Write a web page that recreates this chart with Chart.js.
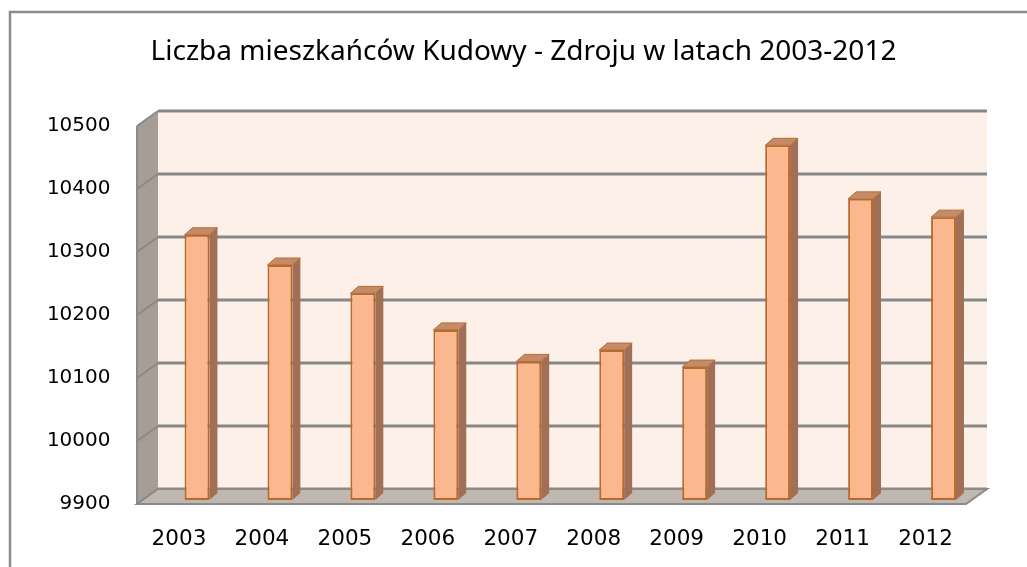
<!DOCTYPE html>
<html>
<head>
<meta charset="utf-8">
<script src="https://cdn.jsdelivr.net/npm/chart.js@4.4.0/dist/chart.umd.min.js"></script>
<style>
  html, body { margin: 0; padding: 0; background: #fff; }
  #wrap { width: 1027px; height: 567px; }
</style>
</head>
<body>
<div id="wrap"><canvas id="popChart" width="1027" height="567"></canvas></div>
<script>
const years = ['2003', '2004', '2005', '2006', '2007', '2008', '2009', '2010', '2011', '2012'];
const population = [10321, 10273, 10228, 10170, 10120, 10138, 10111, 10463, 10378, 10349];
const yTicks = [9900, 10000, 10100, 10200, 10300, 10400, 10500];

// 3d look, offsets
const wallDy = -11;      // back wall is 11px above the bars' front plane
const depthX = 21, depthY = -15;  // floor / side wall depth
const barDx = 8, barDy = -7;      // depth of each column

const box3d = {
    id: 'box3d',
    beforeDraw(chart) {
        const ctx = chart.ctx;
        ctx.save();
        ctx.fillStyle = '#fff';
        ctx.fillRect(0, 0, chart.width, chart.height);
        ctx.strokeStyle = '#8c8c8c';
        ctx.lineWidth = 2.5;
        ctx.strokeRect(10, 12, chart.width + 20, chart.height + 20);
        ctx.restore();
    },
    beforeDatasetsDraw(chart) {
        const ctx = chart.ctx;
        const ca = chart.chartArea;
        const y = chart.scales.y;
        const bl = ca.left + 2.5, br = ca.right + 2;
        const top = y.getPixelForValue(yTicks[yTicks.length - 1]) + wallDy;
        const bot = y.getPixelForValue(yTicks[0]) + wallDy;
        ctx.save();

        // back wall
        ctx.fillStyle = '#fdf0e9';
        ctx.fillRect(bl, top, br - bl, bot - top);

        // side wall
        ctx.fillStyle = '#a59d96';
        ctx.beginPath();
        ctx.moveTo(bl - depthX, top - depthY);
        ctx.lineTo(bl, top);
        ctx.lineTo(bl, bot);
        ctx.lineTo(bl - depthX, bot - depthY);
        ctx.closePath();
        ctx.fill();
        ctx.strokeStyle = '#8a8a8a';
        ctx.lineWidth = 2;
        ctx.beginPath();
        ctx.moveTo(bl - depthX, top - depthY);
        ctx.lineTo(bl - depthX, bot - depthY);
        ctx.stroke();

        // grid lines on the back and side walls
        yTicks.forEach(v => {
            const gy = y.getPixelForValue(v) + wallDy;
            ctx.strokeStyle = '#878787';
            ctx.lineWidth = 3;
            ctx.beginPath();
            ctx.moveTo(bl, gy);
            ctx.lineTo(br, gy);
            ctx.stroke();
            ctx.strokeStyle = '#8d8883';
            ctx.lineWidth = 2;
            ctx.beginPath();
            ctx.moveTo(bl - depthX, gy - depthY);
            ctx.lineTo(bl, gy);
            ctx.stroke();
        });

        // floor
        ctx.fillStyle = '#c0b7b1';
        ctx.strokeStyle = '#8a8a8a';
        ctx.lineWidth = 2;
        ctx.beginPath();
        ctx.moveTo(bl - depthX, bot - depthY);
        ctx.lineTo(bl, bot);
        ctx.lineTo(br, bot);
        ctx.lineTo(br - depthX, bot - depthY);
        ctx.closePath();
        ctx.fill();
        ctx.stroke();

        // column sides and tops
        const meta = chart.getDatasetMeta(0);
        meta.data.forEach(bar => {
            const p = bar.getProps(['x', 'y', 'base', 'width'], true);
            const l = p.x - p.width / 2, r = p.x + p.width / 2;
            ctx.lineWidth = 1;
            ctx.strokeStyle = '#b86c35';
            ctx.fillStyle = '#a06f56';
            ctx.beginPath();
            ctx.moveTo(r, p.y);
            ctx.lineTo(r + barDx, p.y + barDy);
            ctx.lineTo(r + barDx, p.base + barDy);
            ctx.lineTo(r, p.base);
            ctx.closePath();
            ctx.fill();
            ctx.fillStyle = '#c48b68';
            ctx.beginPath();
            ctx.moveTo(l, p.y);
            ctx.lineTo(l + barDx, p.y + barDy);
            ctx.lineTo(r + barDx, p.y + barDy);
            ctx.lineTo(r, p.y);
            ctx.closePath();
            ctx.fill();
            ctx.stroke();
        });
        ctx.restore();
    }
};

new Chart(document.getElementById('popChart'), {
    type: 'bar',
    data: {
        labels: years,
        datasets: [{
            label: 'Liczba mieszkańców',
            data: population,
            base: yTicks[0],
            backgroundColor: '#fbb88f',
            borderColor: '#b9692b',
            borderWidth: 2,
            borderSkipped: false,
            barPercentage: 0.30,
            categoryPercentage: 1
        }]
    },
    options: {
        responsive: false,
        animation: false,
        layout: { padding: { left: 40, right: 20, top: 0, bottom: 0 } },
        plugins: {
            legend: { display: false },
            tooltip: { enabled: false },
            title: {
                display: true,
                text: 'Liczba mieszkańców Kudowy - Zdroju w latach 2003-2012',
                color: '#000',
                font: { family: 'Noto Sans', size: 28, weight: 'normal' },
                padding: { top: 35, bottom: 53.4 }
            }
        },
        scales: {
            x: {
                grid: { display: false, drawTicks: false },
                border: { display: false },
                afterFit: s => { s.height = 67; },
                ticks: {
                    color: '#000',
                    font: { family: 'DejaVu Sans', size: 21.5 },
                    padding: 27,
                    labelOffset: -18,
                    maxRotation: 0
                }
            },
            y: {
                min: 9900,
                max: 10500,
                grid: { display: false, drawTicks: false },
                border: { display: false },
                afterFit: s => { s.width = 115.5; },
                afterBuildTicks: s => { s.ticks = yTicks.map(v => ({ value: v })); },
                ticks: {
                    color: '#000',
                    font: { family: 'DejaVu Sans', size: 20 },
                    padding: 45,
                    labelOffset: 4,
                    callback: v => String(v)
                }
            },
            // empty right axis, only keeps room so the title stays centred like the original
            yRight: {
                position: 'right',
                grid: { display: false, drawTicks: false },
                border: { display: false },
                ticks: { display: false },
                afterFit: s => { s.width = 22; }
            }
        }
    },
    plugins: [box3d]
});
</script>
</body>
</html>
